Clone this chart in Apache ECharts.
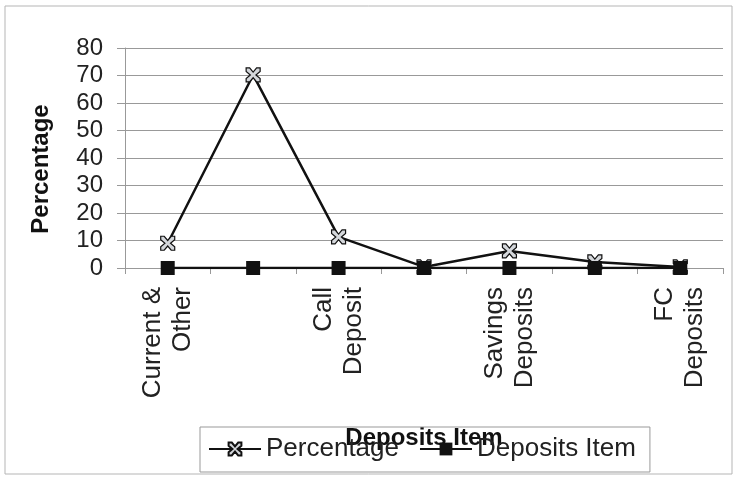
<!DOCTYPE html>
<html>
<head>
<meta charset="utf-8">
<script src="https://cdn.jsdelivr.net/npm/echarts@6/dist/echarts.min.js"></script>
<style>
  html, body { margin: 0; padding: 0; background: #fff; }
  #chart { width: 735px; height: 477px; }
</style>
</head>
<body>
<div id="chart"></div>
<script>
// Deposit categories (only every other one carries a visible label)
var categories = ['Current &\nOther', '', 'Call\nDeposit', '', 'Savings\nDeposits', '', 'FC\nDeposits'];
// Share of total deposits, in percent
var percentage = [9, 70.2, 11.3, 0.4, 6.2, 2.2, 0.4];
// Second series sits on the baseline
var depositsItem = [0, 0, 0, 0, 0, 0, 0];
var yTicks = { min: 0, max: 80, interval: 10 };

var starSymbol = 'path://M0,0 L5,0 L10,6 L15,0 L20,0 L20,5 L14,10 L20,15 L20,20 L15,20 L10,14 L5,20 L0,20 L0,15 L6,10 L0,5 Z';
var font = '"Liberation Sans", Arial, sans-serif';

var chart = echarts.init(document.getElementById('chart'), null, { renderer: 'canvas' });
chart.setOption({
  animation: false,
  backgroundColor: '#fff',
  graphic: [{
    type: 'rect',
    shape: { x: 5, y: 6, width: 727, height: 468 },
    style: { fill: 'none', stroke: '#b5b5b5', lineWidth: 1 },
    silent: true,
    z: -1
  }],
  grid: { left: 125, right: 12, top: 48, bottom: 209, containLabel: false },
  xAxis: {
    type: 'category',
    data: categories,
    boundaryGap: true,
    name: 'Deposits Item',
    nameLocation: 'middle',
    nameGap: 158,
    nameTextStyle: { fontFamily: font, fontSize: 24, fontWeight: 'bold', color: '#111' },
    axisLine: { lineStyle: { color: '#999', width: 1 } },
    axisTick: { show: true, length: 6, lineStyle: { color: '#999' } },
    axisLabel: {
      interval: 0,
      rotate: 90,
      margin: 19,
      fontFamily: font,
      fontSize: 26,
      lineHeight: 30,
      color: '#222'
    },
    splitLine: { show: false }
  },
  yAxis: {
    type: 'value',
    min: yTicks.min,
    max: yTicks.max,
    interval: yTicks.interval,
    name: 'Percentage',
    nameLocation: 'middle',
    nameRotate: 90,
    nameGap: 72,
    nameTextStyle: { fontFamily: font, fontSize: 24, fontWeight: 'bold', color: '#111', padding: [0, 22, 0, 0] },
    axisLine: { show: true, lineStyle: { color: '#999', width: 1 } },
    axisTick: { show: true, inside: false, length: 8, lineStyle: { color: '#999' } },
    axisLabel: { margin: 22, fontFamily: font, fontSize: 24, color: '#222' },
    splitLine: { show: true, lineStyle: { color: '#999', width: 1 } }
  },
  legend: {
    left: 200,
    top: 427,
    padding: [9, 14, 10, 8],
    itemGap: 20,
    itemWidth: 52,
    itemHeight: 16,
    borderColor: '#999',
    borderWidth: 1,
    backgroundColor: 'rgba(255,255,255,0)',
    textStyle: { fontFamily: font, fontSize: 26, color: '#222' },
    data: ['Percentage', 'Deposits Item']
  },
  series: [
    {
      name: 'Percentage',
      type: 'line',
      data: percentage,
      symbol: starSymbol,
      symbolSize: 14,
      lineStyle: { color: '#111', width: 2.5 },
      itemStyle: { color: '#d4d7db', borderColor: '#111', borderWidth: 1.2 },
      z: 2
    },
    {
      name: 'Deposits Item',
      type: 'line',
      data: depositsItem,
      symbol: 'rect',
      symbolSize: 14,
      lineStyle: { color: '#111', width: 2.5 },
      itemStyle: { color: '#111' },
      z: 3
    }
  ]
});
</script>
</body>
</html>
